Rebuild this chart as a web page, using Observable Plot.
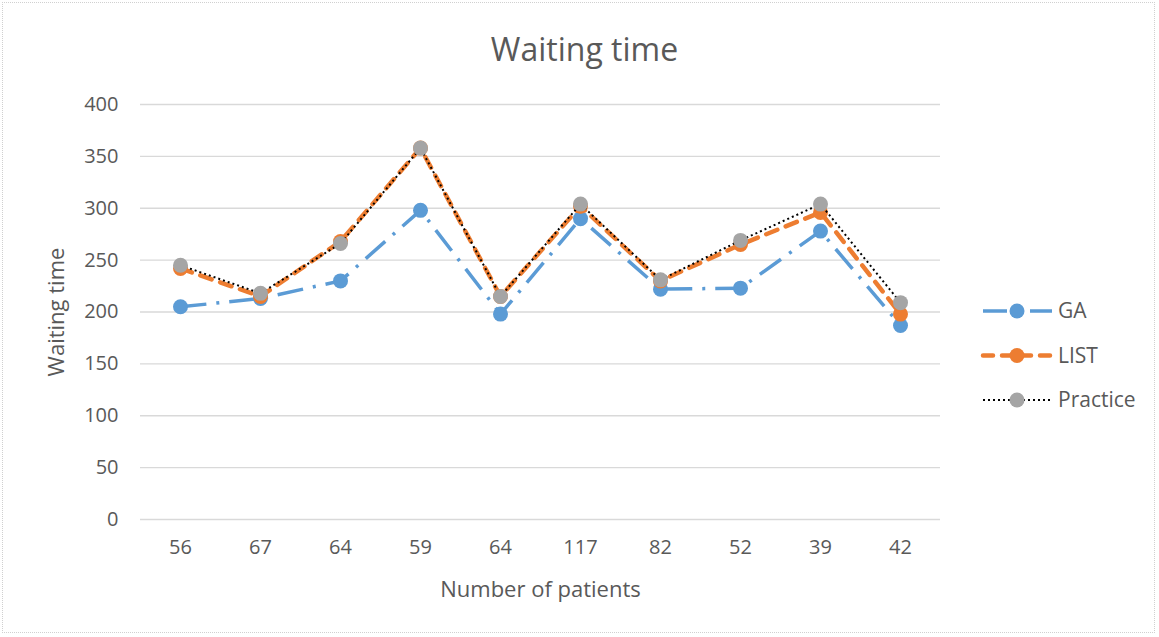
<!DOCTYPE html>
<html>
<head>
<meta charset="utf-8">
<script src="https://cdn.jsdelivr.net/npm/d3@7"></script>
<script src="https://cdn.jsdelivr.net/npm/@observablehq/plot@0.6"></script>
<style>
  html, body { margin: 0; padding: 0; background: #fff; }
  #wrap { position: relative; width: 1159px; height: 637px; font-family: "Open Sans", sans-serif; color: #595959; }
  #frame { position: absolute; left: 2px; top: 2px; width: 1153px; height: 631px; border: 1px dotted #d0d0d0; box-sizing: border-box; pointer-events: none; }
  #title { position: absolute; left: 5px; width: 1159px; top: 27px; text-align: center; font-size: 32px; line-height: 44px; color: #595959; }
  #legend { position: absolute; left: 980px; top: 292px; }
  #chart { position: absolute; left: 0; top: 0; }
</style>
</head>
<body>
<div id="wrap">
  <div id="chart"></div>
  <div id="title">Waiting time</div>
  <div id="legend"></div>
  <div id="frame"></div>
</div>
<script>
const categories = ["56", "67", "64", "59", "64", "117", "82", "52", "39", "42"];
const gaValues = [205, 213, 230, 298, 198, 290, 222, 223, 278, 187];
const listValues = [242, 215, 268, 358, 215, 302, 230, 265, 296, 198];
const practiceValues = [245, 218, 266, 358, 215, 304, 231, 269, 304, 209];
const seriesNames = ["GA", "LIST", "Practice"];
const yTicks = [0, 50, 100, 150, 200, 250, 300, 350, 400];

const colors = {GA: "#5B9BD5", LIST: "#ED7D31", Practice: "#A5A5A5"};
const lineStyles = {
  GA: {stroke: "#5B9BD5", strokeWidth: 3.5, strokeDasharray: "26,10,3,10", strokeLinecap: "butt"},
  LIST: {stroke: "#ED7D31", strokeWidth: 4.5, strokeDasharray: "12,9", strokeLinecap: "round"},
  Practice: {stroke: "#000000", strokeWidth: 2, strokeDasharray: "2,3", strokeLinecap: "butt"}
};

const valuesBySeries = {GA: gaValues, LIST: listValues, Practice: practiceValues};
const rows = seriesNames.map(s => valuesBySeries[s].map((v, i) => ({series: s, i, value: v})));

const marks = [
  Plot.gridY(yTicks, {stroke: "#d9d9d9", strokeOpacity: 1, strokeWidth: 1.3}),
  Plot.axisY(yTicks, {tickSize: 0, tickPadding: 22, fontSize: 20, label: null}),
  Plot.axisY([0], {tickSize: 0, tickFormat: () => "", fontSize: 22, label: "Waiting time", labelAnchor: "center", labelArrow: "none", labelOffset: 92}),
  Plot.axisX(d3.range(categories.length), {tickSize: 0, tickPadding: 20, fontSize: 20, tickFormat: i => categories[i], label: null}),
  Plot.axisX([0], {tickSize: 0, tickFormat: () => "", fontSize: 22, label: "Number of patients", labelAnchor: "center", labelArrow: "none", labelOffset: 77})
];
seriesNames.forEach((s, k) => {
  marks.push(Plot.line(rows[k], {x: "i", y: "value", ...lineStyles[s]}));
  marks.push(Plot.dot(rows[k], {x: "i", y: "value", r: 7.5, fill: colors[s], stroke: "none"}));
});

const chart = Plot.plot({
  width: 1159,
  height: 637,
  marginLeft: 140,
  marginRight: 219,
  marginTop: 104,
  marginBottom: 118,
  style: {fontFamily: "Open Sans, sans-serif", fontSize: "20px", color: "#595959", background: "transparent"},
  x: {type: "point", domain: d3.range(categories.length), padding: 0.5},
  y: {domain: [0, 400]},
  marks
});
document.getElementById("chart").appendChild(chart);

// Legend
const leg = d3.select("#legend").append("svg").attr("width", 175).attr("height", 130)
  .style("font-family", "Open Sans, sans-serif").style("font-size", "21px");
seriesNames.forEach((s, k) => {
  const g = leg.append("g").attr("transform", `translate(0,${19 + k * 44.5})`);
  const st = lineStyles[s];
  g.append("line").attr("x1", 3).attr("x2", 72).attr("y1", 0).attr("y2", 0)
    .attr("stroke", st.stroke).attr("stroke-width", st.strokeWidth)
    .attr("stroke-dasharray", s === "GA" ? "24,10,3,10" : s === "LIST" ? "10,9" : st.strokeDasharray)
    .attr("stroke-linecap", st.strokeLinecap);
  g.append("circle").attr("cx", 37).attr("cy", 0).attr("r", 7.5).attr("fill", colors[s]);
  g.append("text").attr("x", 78).attr("y", 0).attr("dy", "0.35em").attr("fill", "#595959").text(s);
});
</script>
</body>
</html>
